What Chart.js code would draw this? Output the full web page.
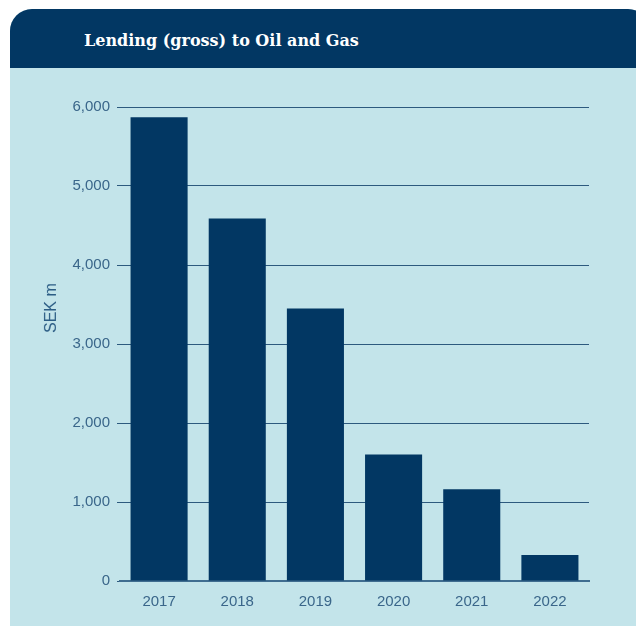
<!DOCTYPE html>
<html>
<head>
<meta charset="utf-8">
<script src="https://cdn.jsdelivr.net/npm/chart.js@4"></script>
<style>
  body { margin: 0; background: #fff; width: 636px; height: 626px; overflow: hidden; position: relative; }
  .card { position: absolute; left: 10px; top: 9px; width: 640px; height: 620px; background: #c3e4ea; border-radius: 22px 22px 0 0; overflow: hidden; }
  .card-head { height: 59px; background: #023763; }
  .card-head h2 { margin: 0; padding-left: 74px; line-height: 63px; color: #fff; font-family: "DejaVu Serif", serif; font-weight: bold; font-size: 16px; }
  .chart-box { position: absolute; left: 0; top: 68px; width: 636px; height: 558px; }
  .y-title { position: absolute; left: 43px; top: 282px; height: 51px; writing-mode: vertical-rl; transform: rotate(180deg); white-space: nowrap; font-family: "Liberation Sans", sans-serif; font-weight: normal; font-size: 16px; line-height: 16px; color: #2c5d85; }
</style>
</head>
<body>
<div class="card"><div class="card-head"><h2>Lending (gross) to Oil and Gas</h2></div></div>
<div class="chart-box"><canvas id="lendingChart" width="636" height="558"></canvas></div>
<div class="y-title">SEK m</div>
<script>
const years = ["2017", "2018", "2019", "2020", "2021", "2022"];
const lending = [5870, 4590, 3450, 1600, 1160, 330];
const yTicks = [0, 1000, 2000, 3000, 4000, 5000, 6000];

const navy = "#023763";
const lineCol = "#2d5a7e";
const textCol = "#3a668a";

new Chart("lendingChart", {
  type: "bar",
  data: {
    labels: years,
    datasets: [{
      data: lending,
      backgroundColor: navy,
      barPercentage: 0.73,
      categoryPercentage: 1
    }]
  },
  options: {
    responsive: false,
    animation: false,
    layout: { padding: { top: 39, right: 47, left: 0, bottom: 0 } },
    plugins: { legend: { display: false }, tooltip: { enabled: false } },
    scales: {
      x: {
        grid: { display: false },
        border: { display: true, color: "#3f6d90", width: 2 },
        ticks: { color: textCol, font: { family: "Liberation Sans", size: 15 }, padding: 4 },
        afterFit: function(scale) { scale.height = 45; }
      },
      y: {
        min: 0,
        max: 6000,
        afterBuildTicks: function(scale) { scale.ticks = yTicks.map(v => ({ value: v })); },
        grid: { color: lineCol, lineWidth: 1, drawTicks: true, tickLength: 3, tickColor: lineCol },
        border: { display: false },
        ticks: {
          color: textCol,
          font: { family: "Liberation Sans", size: 15 },
          padding: 7,
          callback: v => v.toLocaleString("en-US")
        },
        afterFit: function(scale) { scale.width = 120; }
      }
    }
  }
});
</script>
</body>
</html>
